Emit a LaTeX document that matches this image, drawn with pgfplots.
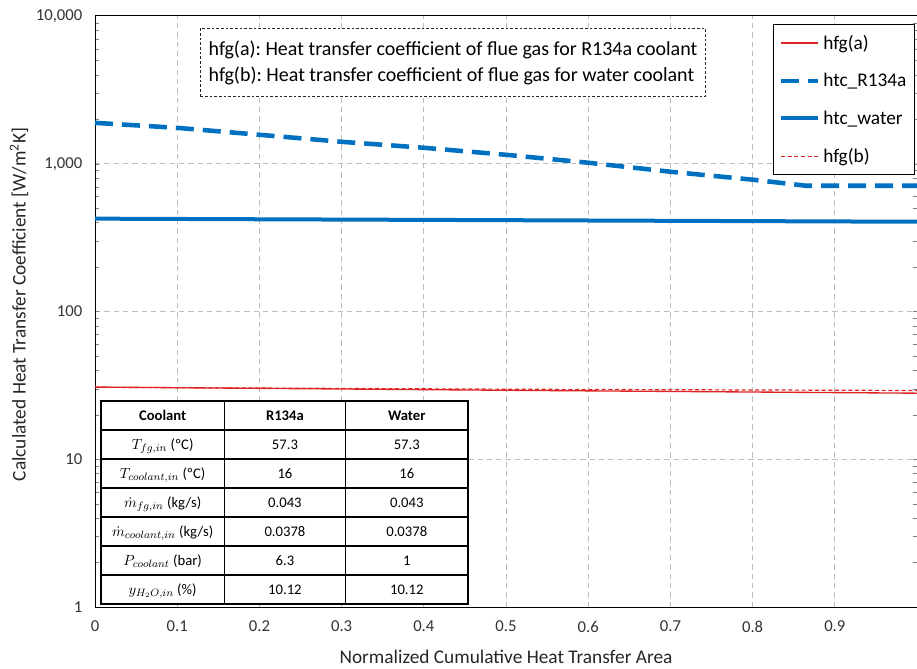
\documentclass[border=0pt]{standalone}
\usepackage{pgfplots}
\pgfplotsset{compat=1.18}
\usepackage{fontspec}
\setmainfont{Carlito}
\usepackage{array}
\newcolumntype{C}[1]{>{\centering\arraybackslash}p{#1}}
\definecolor{xlblue}{RGB}{0,112,192}
\definecolor{xlred}{RGB}{222,35,35}
\definecolor{gridgray}{RGB}{190,190,190}
\newcommand{\rs}{\rule[-7pt]{0pt}{20.75pt}}
\frenchspacing
\begin{document}
\begin{tikzpicture}
\useasboundingbox (0,0) rectangle (687.75pt,501pt);
\begin{axis}[
  at={(71.25pt,45.75pt)}, anchor=south west,
  scale only axis, width=616.5pt, height=443.25pt,
  xmin=0, xmax=1, ymode=log, ymin=1, ymax=10000,
  xtick={0,0.1,0.2,0.3,0.4,0.5,0.6,0.7,0.8,0.9},
  xticklabels={0,0.1,0.2,0.3,0.4,0.5,0.6,0.7,0.8,0.9},
  ytick={1,10,100,1000,10000},
  yticklabels={1,10,100,{1,000},{10,000}},
  minor tick num=0, minor y tick num=0,
  major tick length=0pt,
  ticklabel style={font=\fontsize{12.5}{14}\selectfont, text=black!80},
  xticklabel style={yshift=-7pt},
  yticklabel style={xshift=-6pt},
  grid=major,
  major grid style={gridgray, line width=0.75pt, dash pattern=on 4pt off 3pt},
  axis line style={black, line width=0.75pt},
  every axis x label/.style={at={(axis description cs:0.5,-0.0846)}, anchor=center},
  every axis y label/.style={at={(axis description cs:-0.0925,0.512)}, rotate=90, anchor=center},
  label style={font=\fontsize{14.5}{16}\selectfont, text=black!85},
  xlabel={Normalized Cumulative Heat Transfer Area},
  ylabel={Calculated Heat Transfer Coefficient [W/m\textsuperscript{2}K]},
  legend style={name=leg, at={(0.825,0.985)}, anchor=north west, draw=none,
    fill=white, font=\fontsize{14.5}{16}\selectfont, row sep=12.5pt, inner xsep=4pt, inner ysep=5.5pt,
    cells={anchor=west}},
  legend image code/.code={\draw[#1] (0pt,0pt) -- (28pt,0pt);},
  clip=false,
]
\addlegendimage{draw=xlred, line width=1.1pt}
\addlegendentry{hfg(a)}
\addlegendimage{draw=xlblue, line width=3.4pt, dash pattern=on 13.5pt off 6.75pt}
\addlegendentry{htc\_R134a}
\addlegendimage{draw=xlblue, line width=3pt}
\addlegendentry{htc\_water}
\addlegendimage{draw=xlred, line width=0.9pt, dash pattern=on 3pt off 2pt}
\addlegendentry{hfg(b)}

\addplot[draw=xlred, line width=1pt, forget plot] coordinates {(0,30.8) (0.5,29.3) (1,28.0)};
\addplot[draw=xlblue, line width=3.4pt, dash pattern=on 13.5pt off 6.75pt, forget plot] coordinates {
(0,1892) (0.1,1750) (0.2,1571) (0.3,1408) (0.4,1283) (0.5,1150) (0.6,1016) (0.7,883) (0.8,780) (0.865,710) (1,710)};
\addplot[draw=xlblue, line width=3pt, forget plot] coordinates {(0,425) (0.5,415) (1,405)};
\addplot[draw=xlred, line width=0.9pt, dash pattern=on 3pt off 2pt, forget plot] coordinates {(0,30.7) (0.5,29.8) (1,29.2)};

\node[draw=black!85, line width=0.75pt, dash pattern=on 2pt off 1.5pt, fill=white, anchor=north west,
  inner xsep=5pt, inner ysep=0pt, minimum width=378.75pt, minimum height=51pt, align=left,
  font=\fontsize{15}{19.5}\selectfont] at (rel axis cs:0.1277,0.9797)
  {hfg(a): Heat transfer coefficient of flue gas for R134a coolant\\
   hfg(b): Heat transfer coefficient of flue gas for water coolant};

\node[anchor=north west, inner sep=0pt, fill=white] at (rel axis cs:0.0061,0.350) {%
\setlength{\arrayrulewidth}{1pt}\setlength{\tabcolsep}{0pt}\fontsize{11}{13}\selectfont
\begin{tabular}{|C{91.5pt}|C{90pt}|C{90.75pt}|}
\hline
\rs\textbf{Coolant} & \textbf{R134a} & \textbf{Water}\\ \hline
\rs$T_{fg,in}$ (ºC) & 57.3 & 57.3\\ \hline
\rs$T_{coolant,in}$ (ºC) & 16 & 16\\ \hline
\rs$\dot{m}_{fg,in}$ (kg/s) & 0.043 & 0.043\\ \hline
\rs$\dot{m}_{coolant,in}$ (kg/s) & 0.0378 & 0.0378\\ \hline
\rs$P_{coolant}$ (bar) & 6.3 & 1\\ \hline
\rs$y_{H_2O,in}$ (\%) & 10.12 & 10.12\\ \hline
\end{tabular}};
\end{axis}
\draw[black, line width=0.75pt] (leg.south west) rectangle (leg.north east);
\end{tikzpicture}
\end{document}
